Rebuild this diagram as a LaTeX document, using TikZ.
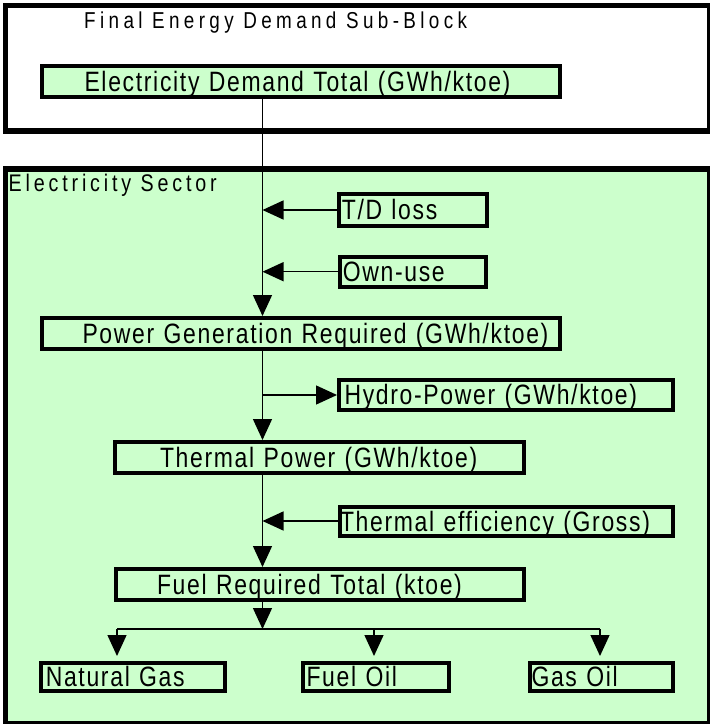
\documentclass[tikz,border=0pt]{standalone}
\usepackage{fontspec}
\setmainfont{Liberation Sans}
\newfontfamily\boxfont[FakeStretch=0.82,LetterSpace=6]{Liberation Sans}
\newfontfamily\spacedfont[FakeStretch=0.82,LetterSpace=19]{Liberation Sans}
\newfontfamily\labelfont[FakeStretch=0.82,LetterSpace=16]{Liberation Sans}
\usetikzlibrary{arrows.meta}
\definecolor{boxgreen}{HTML}{CCFFCC}
\begin{document}
\begin{tikzpicture}[x=1pt,y=-1pt,
  frame/.style={draw=black,line width=5.5pt,inner sep=0pt,anchor=north west},
  box/.style={draw=black,line width=4pt,fill=boxgreen,inner sep=0pt,
    align=left,font=\boxfont\fontsize{28}{32}\selectfont},
  bl/.style={text height=#1,text depth=0pt},
  conn/.style={line width=1.4pt},
  arr/.style={conn,-{Triangle[length=21pt,width=19pt]}},
  lbl/.style={inner sep=0pt,anchor=base west}]
\useasboundingbox (0,0) rectangle (710,724);
% containers
\node[frame,fill=white,minimum width=704.5pt,minimum height=125.25pt] (fed) at (2.75,2.75) {};
\node[frame,fill=boxgreen,minimum width=704.5pt,minimum height=555.25pt] (es) at (2.75,166) {};
\node[lbl,font=\spacedfont\fontsize{23}{26}\selectfont] (fedlbl) at (84,28.5) {Final Energy Demand Sub-Block};
\node[lbl,font=\labelfont\fontsize{24}{27}\selectfont] (eslbl) at (8.5,191) {Electricity Sector};
% boxes
\node[box,bl=19pt,text width=518pt,minimum height=31pt] (edt) at (301,81.5) {\hspace*{42.5pt}Electricity Demand Total (GWh/ktoe)};
\node[box,bl=19pt,text width=148pt,minimum height=32pt] (td) at (413,210) {\hspace*{2.8pt}T/D loss};
\node[box,bl=19pt,text width=146pt,minimum height=30pt] (own) at (413.3,271.7) {\hspace*{2.5pt}Own-use};
\node[box,bl=19pt,text width=518pt,minimum height=31pt] (pgr) at (301,333.5) {\hspace*{40.5pt}Power Generation Required (GWh/ktoe)};
\node[box,bl=19pt,text width=334pt,minimum height=30pt] (hyd) at (506,395) {\hspace*{5.5pt}Hydro-Power (GWh/ktoe)};
\node[box,bl=19pt,text width=409pt,minimum height=31pt] (tp) at (319.5,457.5) {\hspace*{45pt}Thermal Power (GWh/ktoe)};
\node[box,bl=20pt,text width=333pt,minimum height=29pt] (te) at (506.5,521) {\hspace*{0pt}Thermal efficiency (Gross)};
\node[box,bl=19pt,text width=408pt,minimum height=31pt] (frt) at (320,584.5) {\hspace*{41pt}Fuel Required Total (ktoe)};
\node[box,bl=18pt,text width=183.5pt,minimum height=28pt] (ng) at (132.75,677) {\hspace*{4.8pt}Natural Gas};
\node[box,bl=18pt,text width=146pt,minimum height=28pt] (fo) at (376,677) {\hspace*{3.5pt}Fuel Oil};
\node[box,bl=18pt,text width=143pt,minimum height=28pt] (go) at (601.5,677) {\hspace*{1.5pt}Gas Oil};
% connectors
\coordinate (spine) at (262.5,0);
\coordinate (bus) at (262.5,629);
\coordinate (busL) at (117,629);
\coordinate (busM) at (374,629);
\coordinate (busR) at (600,629);
\draw[arr] (edt.south -| spine) -- (pgr.north -| spine);
\draw[arr] (td.west) -- (td.west -| spine);
\draw[arr] (own.west) -- (own.west -| spine);
\draw[arr] (pgr.south -| spine) -- (tp.north -| spine);
\draw[arr] (hyd.west -| spine) -- (hyd.west);
\draw[arr] (tp.south -| spine) -- (frt.north -| spine);
\draw[arr] (te.west) -- (te.west -| spine);
\draw[arr] (frt.south -| spine) -- (bus);
\draw[conn] (busL) -- (busR);
\draw[arr,shorten >=5pt] (busL) -- (busL |- ng.north);
\draw[arr,shorten >=5pt] (busM) -- (busM |- fo.north);
\draw[arr,shorten >=5pt] (busR) -- (busR |- go.north);
\end{tikzpicture}
\end{document}
